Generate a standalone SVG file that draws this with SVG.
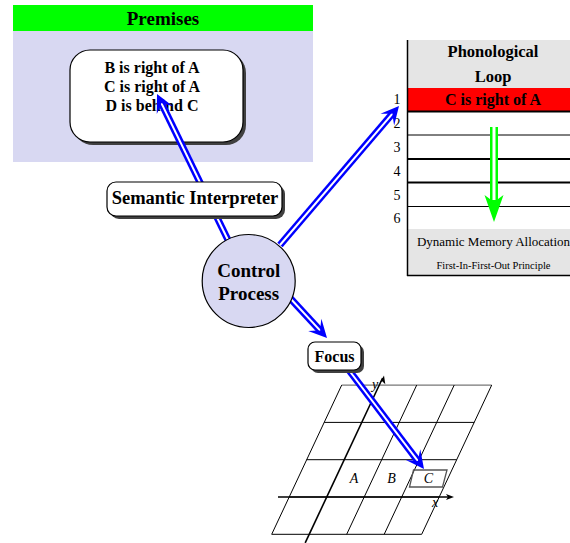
<svg xmlns="http://www.w3.org/2000/svg" width="570" height="543" viewBox="0 0 570 543">
<style>
text{font-family:"Liberation Serif","Times New Roman",serif;fill:#000}
.b{font-weight:bold}
.c{text-anchor:middle}
.node{fill:#fff;stroke:#000;stroke-width:1.2}
.sh{fill:#404040}
.ao{stroke:#0000ff;stroke-width:7;fill:none}
.ai{stroke:#fff;stroke-width:2;fill:none}
.ah{fill:#0000ff}
.g{stroke:#000;stroke-width:1;fill:none}
.ax{stroke:#000;stroke-width:1.6;fill:none}
.it{font-style:italic;font-size:14px}
</style>
<defs>
  <path id="head" d="M0,0 L-18,-9 Q-13,-3 -10,0 Q-13,3 -18,9 Z"/>
</defs>

<g id="premises">
  <rect x="13" y="31" width="300" height="131" fill="#d8d8f2"/>
  <rect x="13" y="5" width="300" height="26" fill="#00ff00"/>
  <text x="163" y="25" class="b c" font-size="19">Premises</text>
  <rect x="73" y="53" width="173" height="92" rx="20" class="sh"/>
  <rect x="70" y="50" width="173" height="92" rx="20" class="node"/>
  <text x="152" y="73" class="b c" font-size="16">B is right of A</text>
  <text x="152" y="92" class="b c" font-size="16">C is right of A</text>
  <text x="152" y="111" class="b c" font-size="16">D is behind C</text>
</g>

<g id="phonological-loop">
  <rect x="407" y="40" width="163" height="48" fill="#e5e5e5"/>
  <rect x="407" y="88" width="163" height="23" fill="#ff0000"/>
  <rect x="407" y="229" width="163" height="46" fill="#e5e5e5"/>
  <text x="493" y="57" class="b c" font-size="16.5">Phonological</text>
  <text x="493" y="82" class="b c" font-size="16.5">Loop</text>
  <text x="493" y="105" class="b c" font-size="16">C is right of A</text>
  <g stroke="#000" fill="none">
    <line x1="407" y1="111.5" x2="570" y2="111.5" stroke-width="2"/>
    <line x1="407" y1="135" x2="570" y2="135" stroke-width="1"/>
    <line x1="407" y1="159" x2="570" y2="159" stroke-width="2"/>
    <line x1="407" y1="182.5" x2="570" y2="182.5" stroke-width="2"/>
    <line x1="407" y1="206.5" x2="570" y2="206.5" stroke-width="1"/>
    <line x1="407" y1="275.5" x2="570" y2="275.5" stroke-width="1.5"/>
    <line x1="407.5" y1="40" x2="407.5" y2="276" stroke-width="1.5"/>
  </g>
  <g font-size="14">
    <text x="397" y="104" class="c">1</text>
    <text x="397" y="128" class="c">2</text>
    <text x="397" y="152" class="c">3</text>
    <text x="397" y="176" class="c">4</text>
    <text x="397" y="200" class="c">5</text>
    <text x="397" y="223" class="c">6</text>
  </g>
  <g id="fifo-arrow">
    <line x1="494" y1="127" x2="494" y2="204" stroke="#00ff00" stroke-width="8"/>
    <line x1="494" y1="127" x2="494" y2="200" stroke="#fff" stroke-width="3"/>
    <path d="M494,222 L484.5,195 L494,202 L503.5,195 Z" fill="#00ff00"/>
  </g>
  <text x="493.5" y="246" class="c" font-size="13">Dynamic Memory Allocation</text>
  <text x="493.5" y="269" class="c" font-size="10.5">First-In-First-Out Principle</text>
</g>

<g id="grid">
  <g class="g">
    <line x1="271.7" y1="534.3" x2="421.7" y2="534.3"/>
    <line x1="289.2" y1="497" x2="439.2" y2="497"/>
    <line x1="306.7" y1="459.7" x2="456.7" y2="459.7"/>
    <line x1="324.2" y1="422.4" x2="474.2" y2="422.4"/>
    <line x1="341.7" y1="385.1" x2="491.7" y2="385.1" stroke="#555"/>
    <line x1="271.7" y1="534.3" x2="341.7" y2="385.1"/>
    <line x1="346.7" y1="534.3" x2="416.7" y2="385.1"/>
    <line x1="384.2" y1="534.3" x2="454.2" y2="385.1"/>
    <line x1="421.7" y1="534.3" x2="491.7" y2="385.1"/>
  </g>
  <g class="ax">
    <line x1="278" y1="497" x2="450" y2="497"/>
    <line x1="305.2" y1="542.9" x2="382.6" y2="378"/>
  </g>
  <path d="M454,497 L446,494 L448,497 L446,500 Z" fill="#000"/>
  <path d="M384,375.5 L379.8,382.8 L382.2,381.3 L385.3,384.3 Z" fill="#000"/>
  <text x="375" y="389" class="it c">y</text>
  <text x="435" y="507" class="it c">x</text>
  <text x="354" y="483" class="it c">A</text>
  <text x="391.5" y="483" class="it c">B</text>
  <polygon points="413.5,470 447,470 442.5,487 409.5,487" fill="none" stroke="#555" stroke-width="1.3"/>
  <text x="428.5" y="483" class="it c">C</text>
</g>

<g id="connectors">
  <g>
    <line x1="228" y1="240" x2="160.9" y2="102.1" class="ao"/>
    <line x1="228" y1="240" x2="160.9" y2="102.1" class="ai"/>
    <use href="#head" class="ah" transform="translate(157,94) rotate(-115.94)"/>
  </g>
  <g>
    <line x1="280" y1="245" x2="393.15" y2="112.84" class="ao"/>
    <line x1="280" y1="245" x2="393.15" y2="112.84" class="ai"/>
    <use href="#head" class="ah" transform="translate(399,106) rotate(-49.43)"/>
  </g>
  <g>
    <line x1="290" y1="298" x2="320.9" y2="331.4" class="ao"/>
    <line x1="290" y1="298" x2="320.9" y2="331.4" class="ai"/>
    <use href="#head" class="ah" transform="translate(327,338) rotate(47.24)"/>
  </g>
  <g>
    <line x1="345" y1="365" x2="418.55" y2="461.84" class="ao"/>
    <line x1="345" y1="365" x2="418.55" y2="461.84" class="ai"/>
    <use href="#head" class="ah" transform="translate(424,469) rotate(52.78)"/>
  </g>
</g>

<g id="semantic-interpreter">
  <rect x="110" y="185" width="175" height="34" rx="9" class="sh"/>
  <rect x="107" y="182" width="175" height="34" rx="9" class="node"/>
  <text x="195" y="204" class="b c" font-size="18.5">Semantic Interpreter</text>
</g>

<g id="control-process">
  <circle cx="248.7" cy="281" r="46.5" fill="#d8d8f2" stroke="#000" stroke-width="1.2"/>
  <text x="248.7" y="277" class="b c" font-size="19">Control</text>
  <text x="248.7" y="300" class="b c" font-size="19">Process</text>
</g>

<g id="focus">
  <rect x="311" y="345" width="53" height="28" rx="7" class="sh"/>
  <rect x="308" y="342" width="53" height="28" rx="7" class="node"/>
  <text x="334.5" y="362" class="b c" font-size="16">Focus</text>
</g>
</svg>
